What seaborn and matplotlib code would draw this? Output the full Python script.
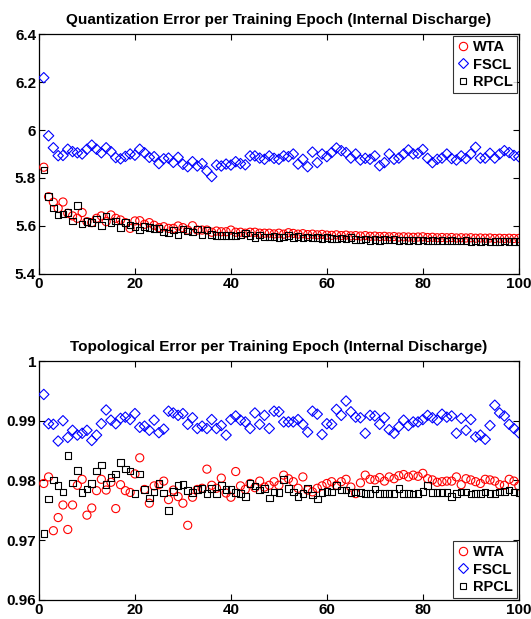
import numpy as np
import pandas as pd
import seaborn as sns
import matplotlib
matplotlib.use("Agg")
import matplotlib.pyplot as plt
from matplotlib.ticker import FixedLocator, FuncFormatter
from matplotlib.lines import Line2D

epochs = list(range(1, 101))

qe_wta = [5.845, 5.722, 5.699, 5.674, 5.700, 5.653, 5.642, 5.632, 5.656, 5.618,
          5.614, 5.632, 5.642, 5.618, 5.646, 5.632, 5.625, 5.614, 5.590, 5.621,
          5.622, 5.607, 5.614, 5.603, 5.593, 5.597, 5.590, 5.590, 5.600, 5.593,
          5.583, 5.601, 5.583, 5.583, 5.583, 5.574, 5.579, 5.576, 5.576, 5.583,
          5.574, 5.574, 5.570, 5.574, 5.574, 5.570, 5.570, 5.570, 5.567, 5.570,
          5.566, 5.572, 5.569, 5.566, 5.568, 5.564, 5.566, 5.563, 5.565, 5.562,
          5.561, 5.563, 5.560, 5.562, 5.559, 5.560, 5.558, 5.560, 5.557, 5.558,
          5.556, 5.557, 5.555, 5.556, 5.554, 5.555, 5.554, 5.553, 5.554, 5.555,
          5.552, 5.553, 5.551, 5.552, 5.551, 5.552, 5.550, 5.551, 5.550, 5.551,
          5.549, 5.550, 5.549, 5.550, 5.548, 5.549, 5.548, 5.549, 5.548, 5.548]

qe_fscl = [6.218, 5.976, 5.926, 5.893, 5.894, 5.920, 5.910, 5.905, 5.900, 5.920,
           5.937, 5.920, 5.905, 5.926, 5.910, 5.885, 5.880, 5.890, 5.900, 5.895,
           5.920, 5.905, 5.886, 5.889, 5.860, 5.880, 5.883, 5.865, 5.886, 5.857,
           5.847, 5.868, 5.850, 5.860, 5.829, 5.806, 5.854, 5.850, 5.858, 5.854,
           5.868, 5.860, 5.855, 5.892, 5.892, 5.883, 5.878, 5.892, 5.882, 5.878,
           5.892, 5.889, 5.900, 5.858, 5.878, 5.847, 5.908, 5.864, 5.900, 5.889,
           5.906, 5.925, 5.914, 5.906, 5.883, 5.900, 5.875, 5.882, 5.878, 5.892,
           5.851, 5.864, 5.900, 5.878, 5.883, 5.900, 5.917, 5.900, 5.903, 5.919,
           5.882, 5.864, 5.878, 5.883, 5.900, 5.881, 5.875, 5.892, 5.881, 5.900,
           5.928, 5.883, 5.883, 5.903, 5.883, 5.900, 5.914, 5.906, 5.894, 5.889]

qe_rpcl = [5.833, 5.722, 5.674, 5.646, 5.649, 5.657, 5.621, 5.685, 5.608, 5.618,
           5.614, 5.629, 5.603, 5.642, 5.614, 5.621, 5.593, 5.614, 5.604, 5.597,
           5.583, 5.597, 5.593, 5.590, 5.590, 5.574, 5.570, 5.583, 5.562, 5.587,
           5.579, 5.574, 5.587, 5.562, 5.583, 5.565, 5.560, 5.560, 5.560, 5.560,
           5.558, 5.562, 5.570, 5.560, 5.551, 5.562, 5.555, 5.555, 5.556, 5.553,
           5.555, 5.560, 5.552, 5.556, 5.549, 5.554, 5.550, 5.553, 5.548, 5.551,
           5.547, 5.546, 5.549, 5.545, 5.553, 5.544, 5.541, 5.545, 5.540, 5.543,
           5.540, 5.544, 5.541, 5.543, 5.540, 5.542, 5.539, 5.541, 5.539, 5.541,
           5.537, 5.540, 5.538, 5.539, 5.537, 5.539, 5.538, 5.537, 5.539, 5.536,
           5.538, 5.535, 5.537, 5.534, 5.536, 5.535, 5.537, 5.535, 5.536, 5.536]

te_wta = [0.9795, 0.9806, 0.9716, 0.9738, 0.9759, 0.9718, 0.9759, 0.9792, 0.9802, 0.9742,
          0.9754, 0.9783, 0.9802, 0.9784, 0.9797, 0.9753, 0.9793, 0.9783, 0.9780, 0.9811,
          0.9838, 0.9785, 0.9762, 0.9791, 0.9793, 0.9799, 0.9768, 0.9784, 0.9773, 0.9762,
          0.9725, 0.9772, 0.9785, 0.9787, 0.9819, 0.9792, 0.9787, 0.9804, 0.9779, 0.9772,
          0.9815, 0.9791, 0.9785, 0.9795, 0.9788, 0.9799, 0.9789, 0.9792, 0.9798, 0.9792,
          0.9809, 0.9803, 0.9798, 0.9787, 0.9806, 0.9784, 0.9781, 0.9787, 0.9791, 0.9795,
          0.9798, 0.9792, 0.9798, 0.9802, 0.9789, 0.9778, 0.9796, 0.9809, 0.9802, 0.9801,
          0.9805, 0.9799, 0.9806, 0.9803, 0.9808, 0.9810, 0.9806, 0.9809, 0.9807, 0.9812,
          0.9803, 0.9801, 0.9797, 0.9798, 0.9799, 0.9799, 0.9806, 0.9793, 0.9803, 0.9801,
          0.9798, 0.9795, 0.9802, 0.9801, 0.9799, 0.9793, 0.9792, 0.9802, 0.9799, 0.9791]

te_fscl = [0.9944, 0.9895, 0.9894, 0.9866, 0.9900, 0.9872, 0.9884, 0.9876, 0.9879, 0.9884,
           0.9867, 0.9876, 0.9895, 0.9918, 0.9901, 0.9895, 0.9904, 0.9906, 0.9902, 0.9912,
           0.9889, 0.9891, 0.9884, 0.9901, 0.9880, 0.9886, 0.9916, 0.9913, 0.9909, 0.9912,
           0.9894, 0.9905, 0.9887, 0.9891, 0.9887, 0.9902, 0.9887, 0.9892, 0.9876, 0.9902,
           0.9908, 0.9901, 0.9898, 0.9887, 0.9913, 0.9894, 0.9909, 0.9887, 0.9916, 0.9915,
           0.9898, 0.9898, 0.9898, 0.9902, 0.9894, 0.9881, 0.9916, 0.9911, 0.9877, 0.9895,
           0.9894, 0.9919, 0.9909, 0.9933, 0.9915, 0.9906, 0.9905, 0.9879, 0.9909, 0.9908,
           0.9894, 0.9905, 0.9885, 0.9879, 0.9890, 0.9901, 0.9892, 0.9898, 0.9898, 0.9902,
           0.9909, 0.9905, 0.9901, 0.9911, 0.9906, 0.9908, 0.9879, 0.9904, 0.9884, 0.9902,
           0.9873, 0.9876, 0.9869, 0.9892, 0.9926, 0.9913, 0.9908, 0.9894, 0.9887, 0.9880]

te_rpcl = [0.9711, 0.9769, 0.9801, 0.9792, 0.9781, 0.9842, 0.9796, 0.9817, 0.9780, 0.9786,
           0.9795, 0.9816, 0.9826, 0.9793, 0.9805, 0.9811, 0.9830, 0.9819, 0.9816, 0.9778,
           0.9811, 0.9785, 0.9771, 0.9781, 0.9795, 0.9779, 0.9750, 0.9782, 0.9792, 0.9793,
           0.9783, 0.9780, 0.9785, 0.9787, 0.9778, 0.9787, 0.9778, 0.9792, 0.9785, 0.9785,
           0.9780, 0.9778, 0.9773, 0.9795, 0.9791, 0.9784, 0.9787, 0.9771, 0.9781, 0.9780,
           0.9802, 0.9787, 0.9781, 0.9773, 0.9778, 0.9787, 0.9776, 0.9769, 0.9780, 0.9782,
           0.9781, 0.9792, 0.9784, 0.9784, 0.9780, 0.9781, 0.9780, 0.9778, 0.9778, 0.9786,
           0.9778, 0.9778, 0.9778, 0.9778, 0.9787, 0.9778, 0.9778, 0.9777, 0.9778, 0.9782,
           0.9792, 0.9780, 0.9780, 0.9780, 0.9780, 0.9773, 0.9778, 0.9781, 0.9781, 0.9777,
           0.9778, 0.9778, 0.9781, 0.9778, 0.9778, 0.9781, 0.9782, 0.9784, 0.9781, 0.9780]

series_names = ["WTA", "FSCL", "RPCL"]
series_colors = ["#ff0000", "#0000ff", "#000000"]
series_markers = ["o", "D", "s"]
series_sizes = [34, 28, 22]

x_ticks = [0, 20, 40, 60, 80, 100]
qe_yticks = [5.4, 5.6, 5.8, 6.0, 6.2, 6.4]
te_yticks = [0.96, 0.97, 0.98, 0.99, 1.0]

sns.set_theme(style="ticks")
plt.rcParams["font.family"] = ["Liberation Sans", "DejaVu Sans"]
plt.rcParams["font.weight"] = "bold"
plt.rcParams["text.color"] = "black"
plt.rcParams["axes.labelcolor"] = "black"
plt.rcParams["axes.titlecolor"] = "black"

fig = plt.figure(figsize=(5.31, 6.19), dpi=100)
ax1 = fig.add_axes([0.0734, 0.5574, 0.9036, 0.3876])
ax2 = fig.add_axes([0.0734, 0.0307, 0.9036, 0.3861])


def draw(ax, data, title, yticks, ylim, legend_loc):
    for vals, name, col, mk, sz in zip(data, series_names, series_colors,
                                       series_markers, series_sizes):
        df = pd.DataFrame({"epoch": epochs, "value": vals})
        sns.scatterplot(data=df, x="epoch", y="value", ax=ax, marker=mk, s=sz,
                        facecolors="none", edgecolor=col, linewidth=0.8,
                        legend=False, zorder=3)
    ax.set_xlim(0, 100)
    ax.set_ylim(*ylim)
    ax.xaxis.set_major_locator(FixedLocator(x_ticks))
    ax.yaxis.set_major_locator(FixedLocator(yticks))
    ax.yaxis.set_major_formatter(FuncFormatter(lambda v, p: "%g" % round(v, 4)))
    ax.xaxis.set_major_formatter(FuncFormatter(lambda v, p: "%g" % v))
    ax.set_xlabel("")
    ax.set_ylabel("")
    ax.tick_params(direction="in", top=True, right=True, length=4, width=0.8,
                   labelsize=11, pad=2, colors="black")
    for lab in ax.get_xticklabels() + ax.get_yticklabels():
        lab.set_fontweight("bold")
    for sp in ax.spines.values():
        sp.set_visible(True)
        sp.set_linewidth(0.9)
        sp.set_color("black")
    ax.set_title(title, fontsize=11, fontweight="bold", pad=7, color="black")
    handles = [Line2D([], [], linestyle="none", marker=mk,
                      markersize=6 if mk == "o" else 5.5 if mk == "D" else 5,
                      markerfacecolor="none", markeredgecolor=col, markeredgewidth=0.8)
               for col, mk in zip(series_colors, series_markers)]
    leg = ax.legend(handles, series_names, loc=legend_loc,
                    frameon=True, fancybox=False, edgecolor="black",
                    handlelength=0.8, handletextpad=0.3, borderpad=0.25,
                    labelspacing=0.25, borderaxespad=0.15,
                    prop={"weight": "bold", "size": 10.5})
    leg.get_frame().set_linewidth(0.8)
    for t in leg.get_texts():
        t.set_color("black")


draw(ax1, [qe_wta, qe_fscl, qe_rpcl],
     "Quantization Error per Training Epoch (Internal Discharge)",
     qe_yticks, (5.4, 6.4), "upper right")
draw(ax2, [te_wta, te_fscl, te_rpcl],
     "Topological Error per Training Epoch (Internal Discharge)",
     te_yticks, (0.96, 1.0), "lower right")

fig.savefig("out.png", dpi=100, facecolor="white")
